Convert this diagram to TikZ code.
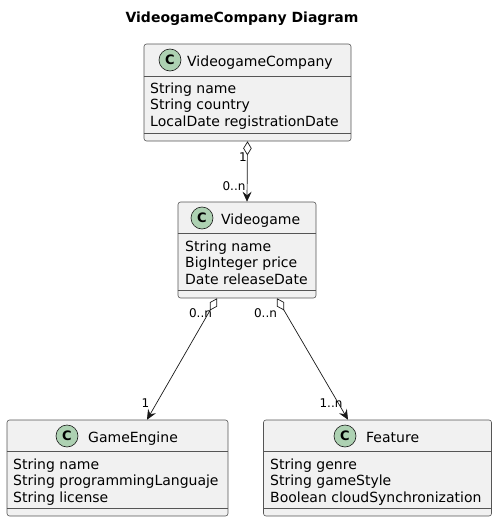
\documentclass[tikz,border=0pt]{standalone}
\usepackage{fontspec}
\setmainfont{DejaVu Sans}
\usetikzlibrary{arrows.meta,calc}
\definecolor{boxfill}{HTML}{F1F1F1}
\definecolor{linec}{HTML}{181818}
\definecolor{borderc}{HTML}{555555}
\definecolor{iconfill}{HTML}{ADD1B2}
\tikzset{
 classbox/.style={draw=borderc, fill=boxfill, rounded corners=2.5pt, line width=0.6pt, inner sep=0},
 icon/.style={circle, draw=linec, fill=iconfill, line width=0.6pt, minimum size=22pt, inner sep=0, font=\fontsize{13}{13}\selectfont\bfseries},
 cname/.style={anchor=base west, inner sep=0, font=\fontsize{14}{16}\selectfont},
 attr/.style={anchor=base west, inner sep=0, font=\fontsize{14}{16}\selectfont},
 sepline/.style={draw=borderc, line width=0.6pt},
 mult/.style={inner sep=0, font=\fontsize{12}{12}\selectfont},
 agg/.style={draw=linec, line width=0.7pt, {Diamond[fill=white,length=14pt,width=8.5pt]}-{Stealth[length=10pt,width=9pt,inset=3.5pt]}}
}
\begin{document}
\begin{tikzpicture}[x=1pt,y=-1pt]
\useasboundingbox (0,0) rectangle (497,522);
% title
\node[anchor=base, inner sep=0, font=\fontsize{14}{16}\selectfont\bfseries] (title) at (242,23) {VideogameCompany Diagram};
% VideogameCompany
\node[classbox, minimum width=207pt, minimum height=97pt] (vc) at (247.5,92.5) {};
\draw[sepline] ($(vc.north west)+(0,33)$) -- ($(vc.north east)+(0,33)$);
\draw[sepline] ($(vc.south west)+(0,-8)$) -- ($(vc.south east)+(0,-8)$);
\node[icon] (vcicon) at (170,60) {C};
\node[cname] (vcname) at (187,66) {VideogameCompany};
\node[attr] (vca1) at (150,93) {String name};
\node[attr] (vca2) at (150,109.5) {String country};
\node[attr] (vca3) at (150,126) {LocalDate registrationDate};
% Videogame
\node[classbox, minimum width=138pt, minimum height=96pt] (vg) at (247,250) {};
\draw[sepline] ($(vg.north west)+(0,32)$) -- ($(vg.north east)+(0,32)$);
\draw[sepline] ($(vg.south west)+(0,-8)$) -- ($(vg.south east)+(0,-8)$);
\node[icon] (vgicon) at (202,218) {C};
\node[cname] (vgname) at (221,224) {Videogame};
\node[attr] (vga1) at (185,251) {String name};
\node[attr] (vga2) at (185,267.5) {BigInteger price};
\node[attr] (vga3) at (185,284) {Date releaseDate};
% GameEngine
\node[classbox, minimum width=221pt, minimum height=96pt] (ge) at (117.5,468) {};
\draw[sepline] ($(ge.north west)+(0,32)$) -- ($(ge.north east)+(0,32)$);
\draw[sepline] ($(ge.south west)+(0,-8)$) -- ($(ge.south east)+(0,-8)$);
\node[icon] (geicon) at (67,436) {C};
\node[cname] (gename) at (88,442) {GameEngine};
\node[attr] (gea1) at (13,469) {String name};
\node[attr] (gea2) at (13,485.5) {String programmingLanguaje};
\node[attr] (gea3) at (13,502) {String license};
% Feature
\node[classbox, minimum width=228pt, minimum height=96pt] (ft) at (377.5,468) {};
\draw[sepline] ($(ft.north west)+(0,32)$) -- ($(ft.north east)+(0,32)$);
\draw[sepline] ($(ft.south west)+(0,-8)$) -- ($(ft.south east)+(0,-8)$);
\node[icon] (fticon) at (345,436) {C};
\node[cname] (ftname) at (366,442) {Feature};
\node[attr] (fta1) at (270,469) {String genre};
\node[attr] (fta2) at (270,485.5) {String gameStyle};
\node[attr] (fta3) at (270,502) {Boolean cloudSynchronization};
% connectors
\draw[agg] (vc.south) -- (vg.north);
\draw[agg] ($(vg.south)+(-30,0)$) -- ($(ge.north)+(29.5,0)$);
\draw[agg] ($(vg.south)+(30,0)$) -- ($(ft.north)+(-29.5,0)$);
% multiplicities
\node[mult] (m1) at (243,157) {1};
\node[mult] (m2) at (234,186.5) {0..n};
\node[mult] (m3) at (200.5,313.5) {0..n};
\node[mult] (m4) at (265.5,313.5) {0..n};
\node[mult] (m5) at (145.5,403.5) {1};
\node[mult] (m6) at (331,403.5) {1..n};
\end{tikzpicture}
\end{document}
